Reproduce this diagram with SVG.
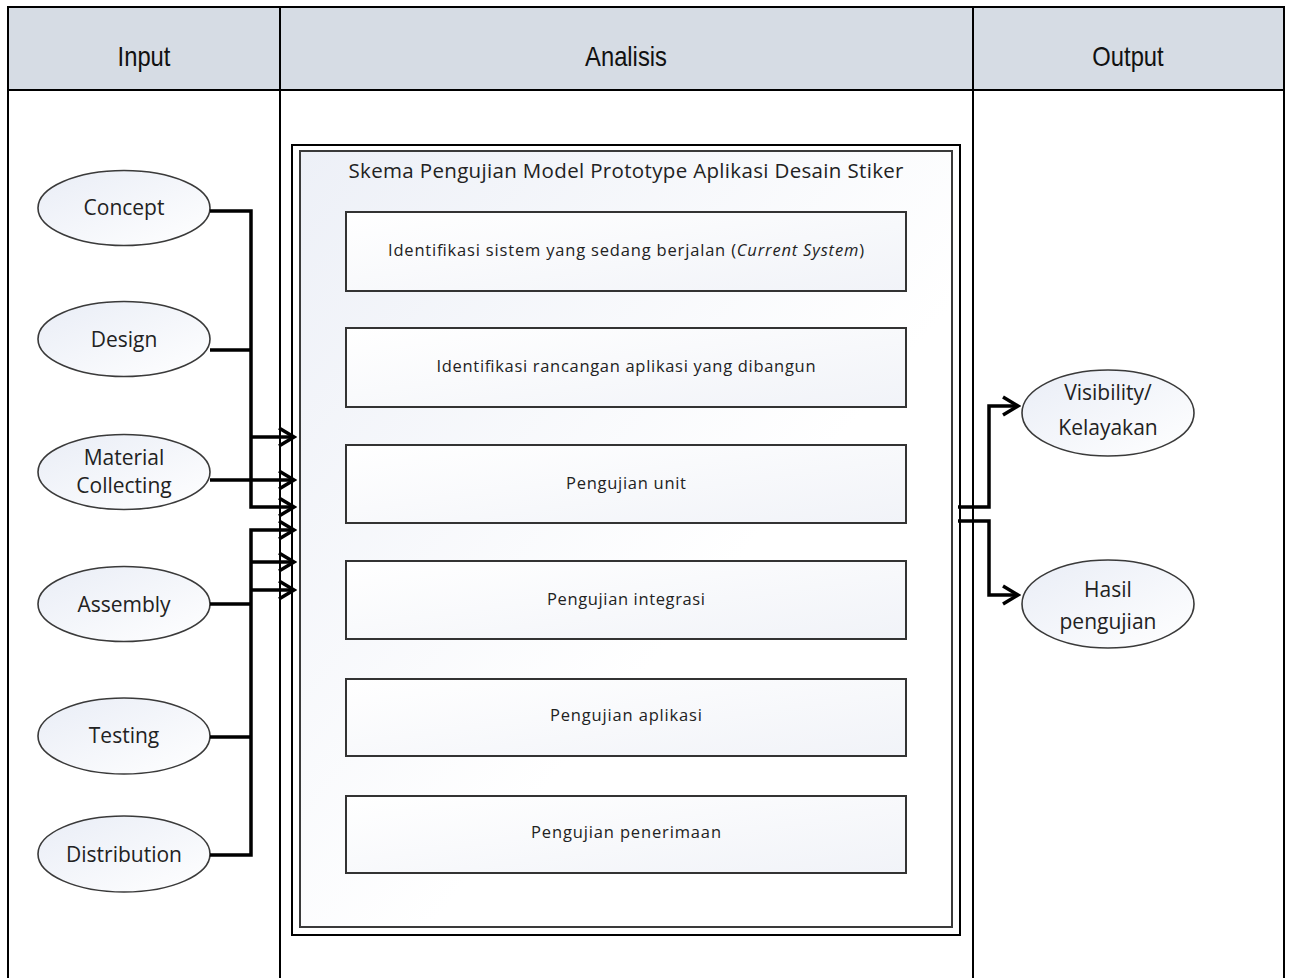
<svg xmlns="http://www.w3.org/2000/svg" width="1291" height="978" viewBox="0 0 1291 978">
<defs>
<linearGradient id="gEll" x1="0" y1="0" x2="1" y2="1">
<stop offset="0" stop-color="#e9edf6"/>
<stop offset="1" stop-color="#ffffff"/>
</linearGradient>
<linearGradient id="gFrame" x1="0" y1="0" x2="1" y2="1">
<stop offset="0" stop-color="#edf0f7"/>
<stop offset="0.6" stop-color="#ffffff"/>
<stop offset="1" stop-color="#ffffff"/>
</linearGradient>
<linearGradient id="gBox" x1="0" y1="0" x2="1" y2="1">
<stop offset="0" stop-color="#ffffff"/>
<stop offset="1" stop-color="#f1f3f8"/>
</linearGradient>
<marker id="arr" viewBox="0 0 20 22" refX="17" refY="11" markerWidth="20" markerHeight="22" markerUnits="userSpaceOnUse" orient="auto">
<path d="M2,2 L17,11 L2,20" fill="none" stroke="#000" stroke-width="3.5"/>
</marker>
</defs>
<style>
.hdr{font-family:"Liberation Sans",Arial,sans-serif;font-size:27px;fill:#111;text-anchor:middle}
.ell{fill:url(#gEll);stroke:#3a3a3a;stroke-width:1.6}
.et{font-family:"Open Sans","Noto Sans",sans-serif;font-size:21px;fill:#222;text-anchor:middle}
.box{fill:url(#gBox);stroke:#333;stroke-width:2}
.bt{font-family:"Open Sans","Noto Sans",sans-serif;font-size:16.5px;fill:#222;text-anchor:middle}
.tl{font-family:"Open Sans","Noto Sans",sans-serif;font-size:20.5px;fill:#222;text-anchor:middle}
.cn{fill:none;stroke:#000;stroke-width:3.5}
.tb{fill:none;stroke:#000;stroke-width:2}
</style>
<rect width="1291" height="978" fill="#fff"/>
<g id="table">
<rect x="8" y="7" width="1276" height="83" fill="#d6dce4"/>
<path class="tb" d="M8,978 V7 H1284 V978 M8,90 H1284 M280,7 V978 M973,7 V978"/>
<text class="hdr" transform="translate(144,66) scale(0.88,1)">Input</text>
<text class="hdr" transform="translate(626,66) scale(0.88,1)">Analisis</text>
<text class="hdr" transform="translate(1128,66) scale(0.88,1)">Output</text>
</g>
<g id="frame">
<rect x="292" y="145" width="668" height="790" fill="#fff" stroke="#000" stroke-width="2"/>
<rect x="300" y="151" width="652" height="776" fill="url(#gFrame)" stroke="#3a3a3a" stroke-width="2"/>
<text class="tl" x="626" y="178" textLength="555" lengthAdjust="spacing">Skema Pengujian Model Prototype Aplikasi Desain Stiker</text>
</g>
<g id="box1"><rect class="box" x="346" y="212" width="560" height="79"/><text class="bt" x="626" y="256" textLength="476" lengthAdjust="spacing">Identifikasi sistem yang sedang berjalan (<tspan font-style="italic">Current System</tspan>)</text></g>
<g id="box2"><rect class="box" x="346" y="328" width="560" height="79"/><text class="bt" x="626" y="372" textLength="379" lengthAdjust="spacing">Identifikasi rancangan aplikasi yang dibangun</text></g>
<g id="box3"><rect class="box" x="346" y="445" width="560" height="78"/><text class="bt" x="626" y="489" textLength="120" lengthAdjust="spacing">Pengujian unit</text></g>
<g id="box4"><rect class="box" x="346" y="561" width="560" height="78"/><text class="bt" x="626" y="605" textLength="158" lengthAdjust="spacing">Pengujian integrasi</text></g>
<g id="box5"><rect class="box" x="346" y="679" width="560" height="77"/><text class="bt" x="626" y="721" textLength="152" lengthAdjust="spacing">Pengujian aplikasi</text></g>
<g id="box6"><rect class="box" x="346" y="796" width="560" height="77"/><text class="bt" x="626" y="838" textLength="190" lengthAdjust="spacing">Pengujian penerimaan</text></g>
<g id="concept"><ellipse class="ell" cx="124" cy="208" rx="86" ry="37.5"/><text class="et" x="124" y="215">Concept</text></g>
<g id="design"><ellipse class="ell" cx="124" cy="339" rx="86" ry="37.5"/><text class="et" x="124" y="347">Design</text></g>
<g id="material"><ellipse class="ell" cx="124" cy="472" rx="86" ry="37.5"/><text class="et" x="124" y="465">Material</text><text class="et" x="124" y="493">Collecting</text></g>
<g id="assembly"><ellipse class="ell" cx="124" cy="604" rx="86" ry="37.5"/><text class="et" x="124" y="612">Assembly</text></g>
<g id="testing"><ellipse class="ell" cx="124" cy="736" rx="86" ry="38"/><text class="et" x="124" y="743">Testing</text></g>
<g id="distribution"><ellipse class="ell" cx="124" cy="854" rx="86" ry="38"/><text class="et" x="124" y="862">Distribution</text></g>
<g id="visibility"><ellipse class="ell" cx="1108" cy="413" rx="86" ry="43"/><text class="et" x="1108" y="400">Visibility/</text><text class="et" x="1108" y="435">Kelayakan</text></g>
<g id="hasil"><ellipse class="ell" cx="1108" cy="604" rx="86" ry="44"/><text class="et" x="1108" y="597">Hasil</text><text class="et" x="1108" y="629">pengujian</text></g>
<g id="connectors">
<path class="cn" d="M210,211 H251 V507 H294" marker-end="url(#arr)"/>
<path class="cn" d="M251,437 H294" marker-end="url(#arr)"/>
<path class="cn" d="M210,350 H251"/>
<path class="cn" d="M210,480 H294" marker-end="url(#arr)"/>
<path class="cn" d="M210,855 H251 V530 H294" marker-end="url(#arr)"/>
<path class="cn" d="M251,562 H294" marker-end="url(#arr)"/>
<path class="cn" d="M251,590 H294" marker-end="url(#arr)"/>
<path class="cn" d="M210,604 H251"/>
<path class="cn" d="M210,737 H251"/>
<path class="cn" d="M958,507 H989 V406 H1018" marker-end="url(#arr)"/>
<path class="cn" d="M958,521 H989 V595 H1018" marker-end="url(#arr)"/>
</g>
</svg>
